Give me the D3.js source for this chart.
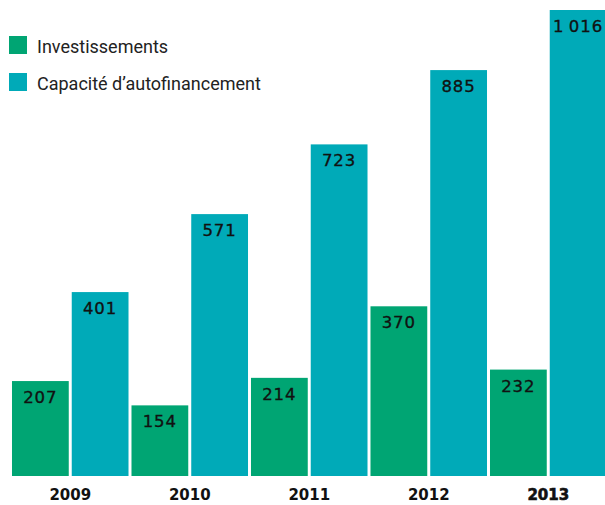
<!DOCTYPE html>
<html><head><meta charset="utf-8">
<script src="https://cdn.jsdelivr.net/npm/d3@7"></script>
<style>body{margin:0;background:#fff}</style>
</head><body>
<svg id="c" width="605" height="505"></svg>
<script>
const years = ["2009","2010","2011","2012","2013"];
const investissements = [207,154,214,370,232];
const capacite = [401,571,723,885,1016];
const labelsInv = ["207","154","214","370","232"];
const labelsCap = ["401","571","723","885","1\u2009016"];
const seriesNames = ["Investissements","Capacité d’autofinancement"];
const colors = ["#00A573","#00AAB8"];

const svg = d3.select("#c");
const x = d3.scaleBand().domain(years).range([10.5,608]).paddingInner(0).paddingOuter(0);
const sub = d3.scaleBand().domain([0,1]).range([0,x.bandwidth()]).paddingInner(0.05).paddingOuter(0.025);
const y = d3.scaleLinear().domain([0,1016]).range([476,10]);

const data = years.map((yr,i)=>({yr, vals:[investissements[i],capacite[i]], labs:[labelsInv[i],labelsCap[i]]}));
const g = svg.selectAll("g.grp").data(data).join("g").attr("transform",d=>`translate(${x(d.yr)},0)`);
g.selectAll("rect").data(d=>d.vals.map((v,k)=>({v,k}))).join("rect")
  .attr("x",d=>sub(d.k)).attr("width",sub.bandwidth())
  .attr("y",d=>y(d.v)).attr("height",d=>y(0)-y(d.v))
  .attr("fill",d=>colors[d.k]);
g.selectAll("text.val").data(d=>d.vals.map((v,k)=>({v,k,l:d.labs[k]}))).join("text")
  .attr("class","val")
  .attr("x",d=>sub(d.k)+sub.bandwidth()/2).attr("y",d=>y(d.v)+22)
  .attr("text-anchor","middle")
  .style("font-family","'DejaVu Sans',sans-serif").style("letter-spacing","1px")
  .style("font-size","16.5px").attr("fill","#111")
  .attr("stroke","#111").attr("stroke-width",0.35).text(d=>d.l);

// x axis labels
const axis = d3.axisBottom(x).tickSize(0).tickPadding(0);
const ax = svg.append("g").attr("transform","translate(0,476)").call(axis);
ax.select(".domain").remove();
ax.selectAll("text").attr("y",24).attr("dy",0)
  .style("font-family","'DejaVu Sans',sans-serif").style("font-size","15px")
  .style("font-weight","bold").attr("fill","#111")
  .attr("stroke",d=>d==="2013"?"#111":"none").attr("stroke-width",0.6);

// legend
const lg = svg.selectAll("g.leg").data(seriesNames).join("g").attr("transform",(d,i)=>`translate(9,${36+i*37})`);
lg.append("rect").attr("width",18).attr("height",18).attr("fill",(d,i)=>colors[i]);
lg.append("text").attr("x",28).attr("y",16.5).text(d=>d)
  .style("font-family","'Roboto','Liberation Sans',sans-serif").style("font-size","18px").attr("fill","#222");
</script>
</body></html>
